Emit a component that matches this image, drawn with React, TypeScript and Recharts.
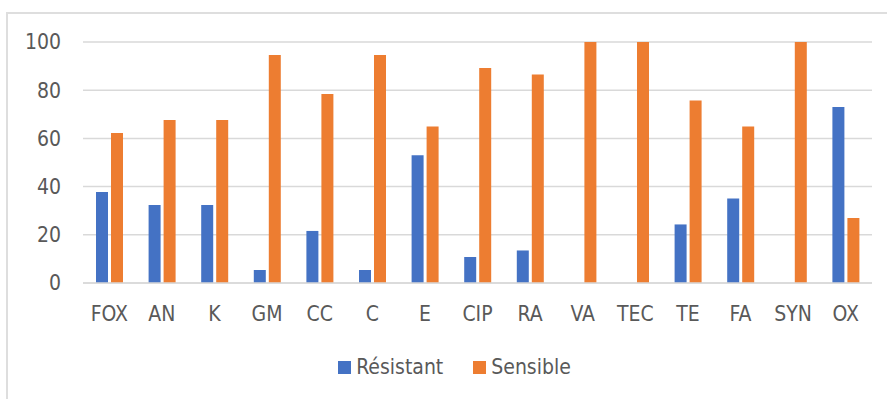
import React from 'react';
import { BarChart, Bar, XAxis, YAxis, CartesianGrid } from 'recharts';

// antibiotiques testés
const categories = ['FOX', 'AN', 'K', 'GM', 'CC', 'C', 'E', 'CIP', 'RA', 'VA', 'TEC', 'TE', 'FA', 'SYN', 'OX'];
const resistant = [37.8, 32.4, 32.4, 5.4, 21.6, 5.4, 53, 10.8, 13.5, 0, 0, 24.3, 35.1, 0, 73];
const sensible = [62.2, 67.6, 67.6, 94.6, 78.4, 94.6, 64.9, 89.2, 86.5, 100, 100, 75.7, 64.9, 100, 27];
const yTicks = [0, 20, 40, 60, 80, 100];

const data = categories.map((name, i) => ({
  name,
  resistant: resistant[i],
  sensible: sensible[i],
}));

const FONT = '"DejaVu Sans Condensed", "Liberation Sans Narrow", sans-serif';
const TEXT = '#595959';
const GRID = '#d9d9d9';

const legendItems = [
  { label: 'Résistant', color: '#4472C4' },
  { label: 'Sensible', color: '#ED7D31' },
];

// légende dessinée à part, sous l'axe des x
const LegendBlock = () => (
  <div
    style={{
      position: 'absolute',
      left: 11,
      top: 354,
      width: 887,
      height: 26,
      display: 'flex',
      justifyContent: 'center',
      alignItems: 'center',
      fontFamily: FONT,
      fontSize: 21,
      color: TEXT,
    }}
  >
    {legendItems.map((item, i) => (
      <div key={item.label} style={{ display: 'flex', alignItems: 'center', marginRight: i === 0 ? 30 : 0 }}>
        <span style={{ width: 13, height: 13, background: item.color, display: 'inline-block', marginRight: 5 }} />
        <span>{item.label}</span>
      </div>
    ))}
  </div>
);

const App: React.FC = () => {
  return (
    <div style={{ position: 'absolute', left: 0, top: 0, width: 887, height: 399, background: '#fff', overflow: 'hidden' }}>
      <div
        style={{
          position: 'absolute',
          left: 6,
          top: 12,
          width: 900,
          height: 400,
          borderTop: '2px solid #dedede',
          borderLeft: '2px solid #dedede',
        }}
      />
      <div style={{ position: 'absolute', left: 0, top: 0 }}>
        <BarChart
          width={887}
          height={399}
          data={data}
          margin={{ top: 42, right: 15, left: 0, bottom: 0 }}
          barSize={12}
          barGap={3}
        >
          <CartesianGrid vertical={false} stroke={GRID} strokeWidth={1.5} />
          <XAxis
            dataKey="name"
            height={116}
            interval={0}
            tickLine={false}
            axisLine={{ stroke: GRID, strokeWidth: 1.5 }}
            tickSize={0}
            tickMargin={23}
            tick={{ fill: TEXT, fontSize: 21, fontFamily: FONT }}
          />
          <YAxis
            width={83}
            domain={[0, 100]}
            ticks={yTicks}
            axisLine={false}
            tickLine={false}
            tickSize={0}
            tickMargin={22}
            tick={{ fill: TEXT, fontSize: 21, fontFamily: FONT }}
          />
          <Bar dataKey="resistant" name="Résistant" fill="#4472C4" isAnimationActive={false} />
          <Bar dataKey="sensible" name="Sensible" fill="#ED7D31" isAnimationActive={false} />
        </BarChart>
      </div>
      <LegendBlock />
    </div>
  );
};

export default App;
